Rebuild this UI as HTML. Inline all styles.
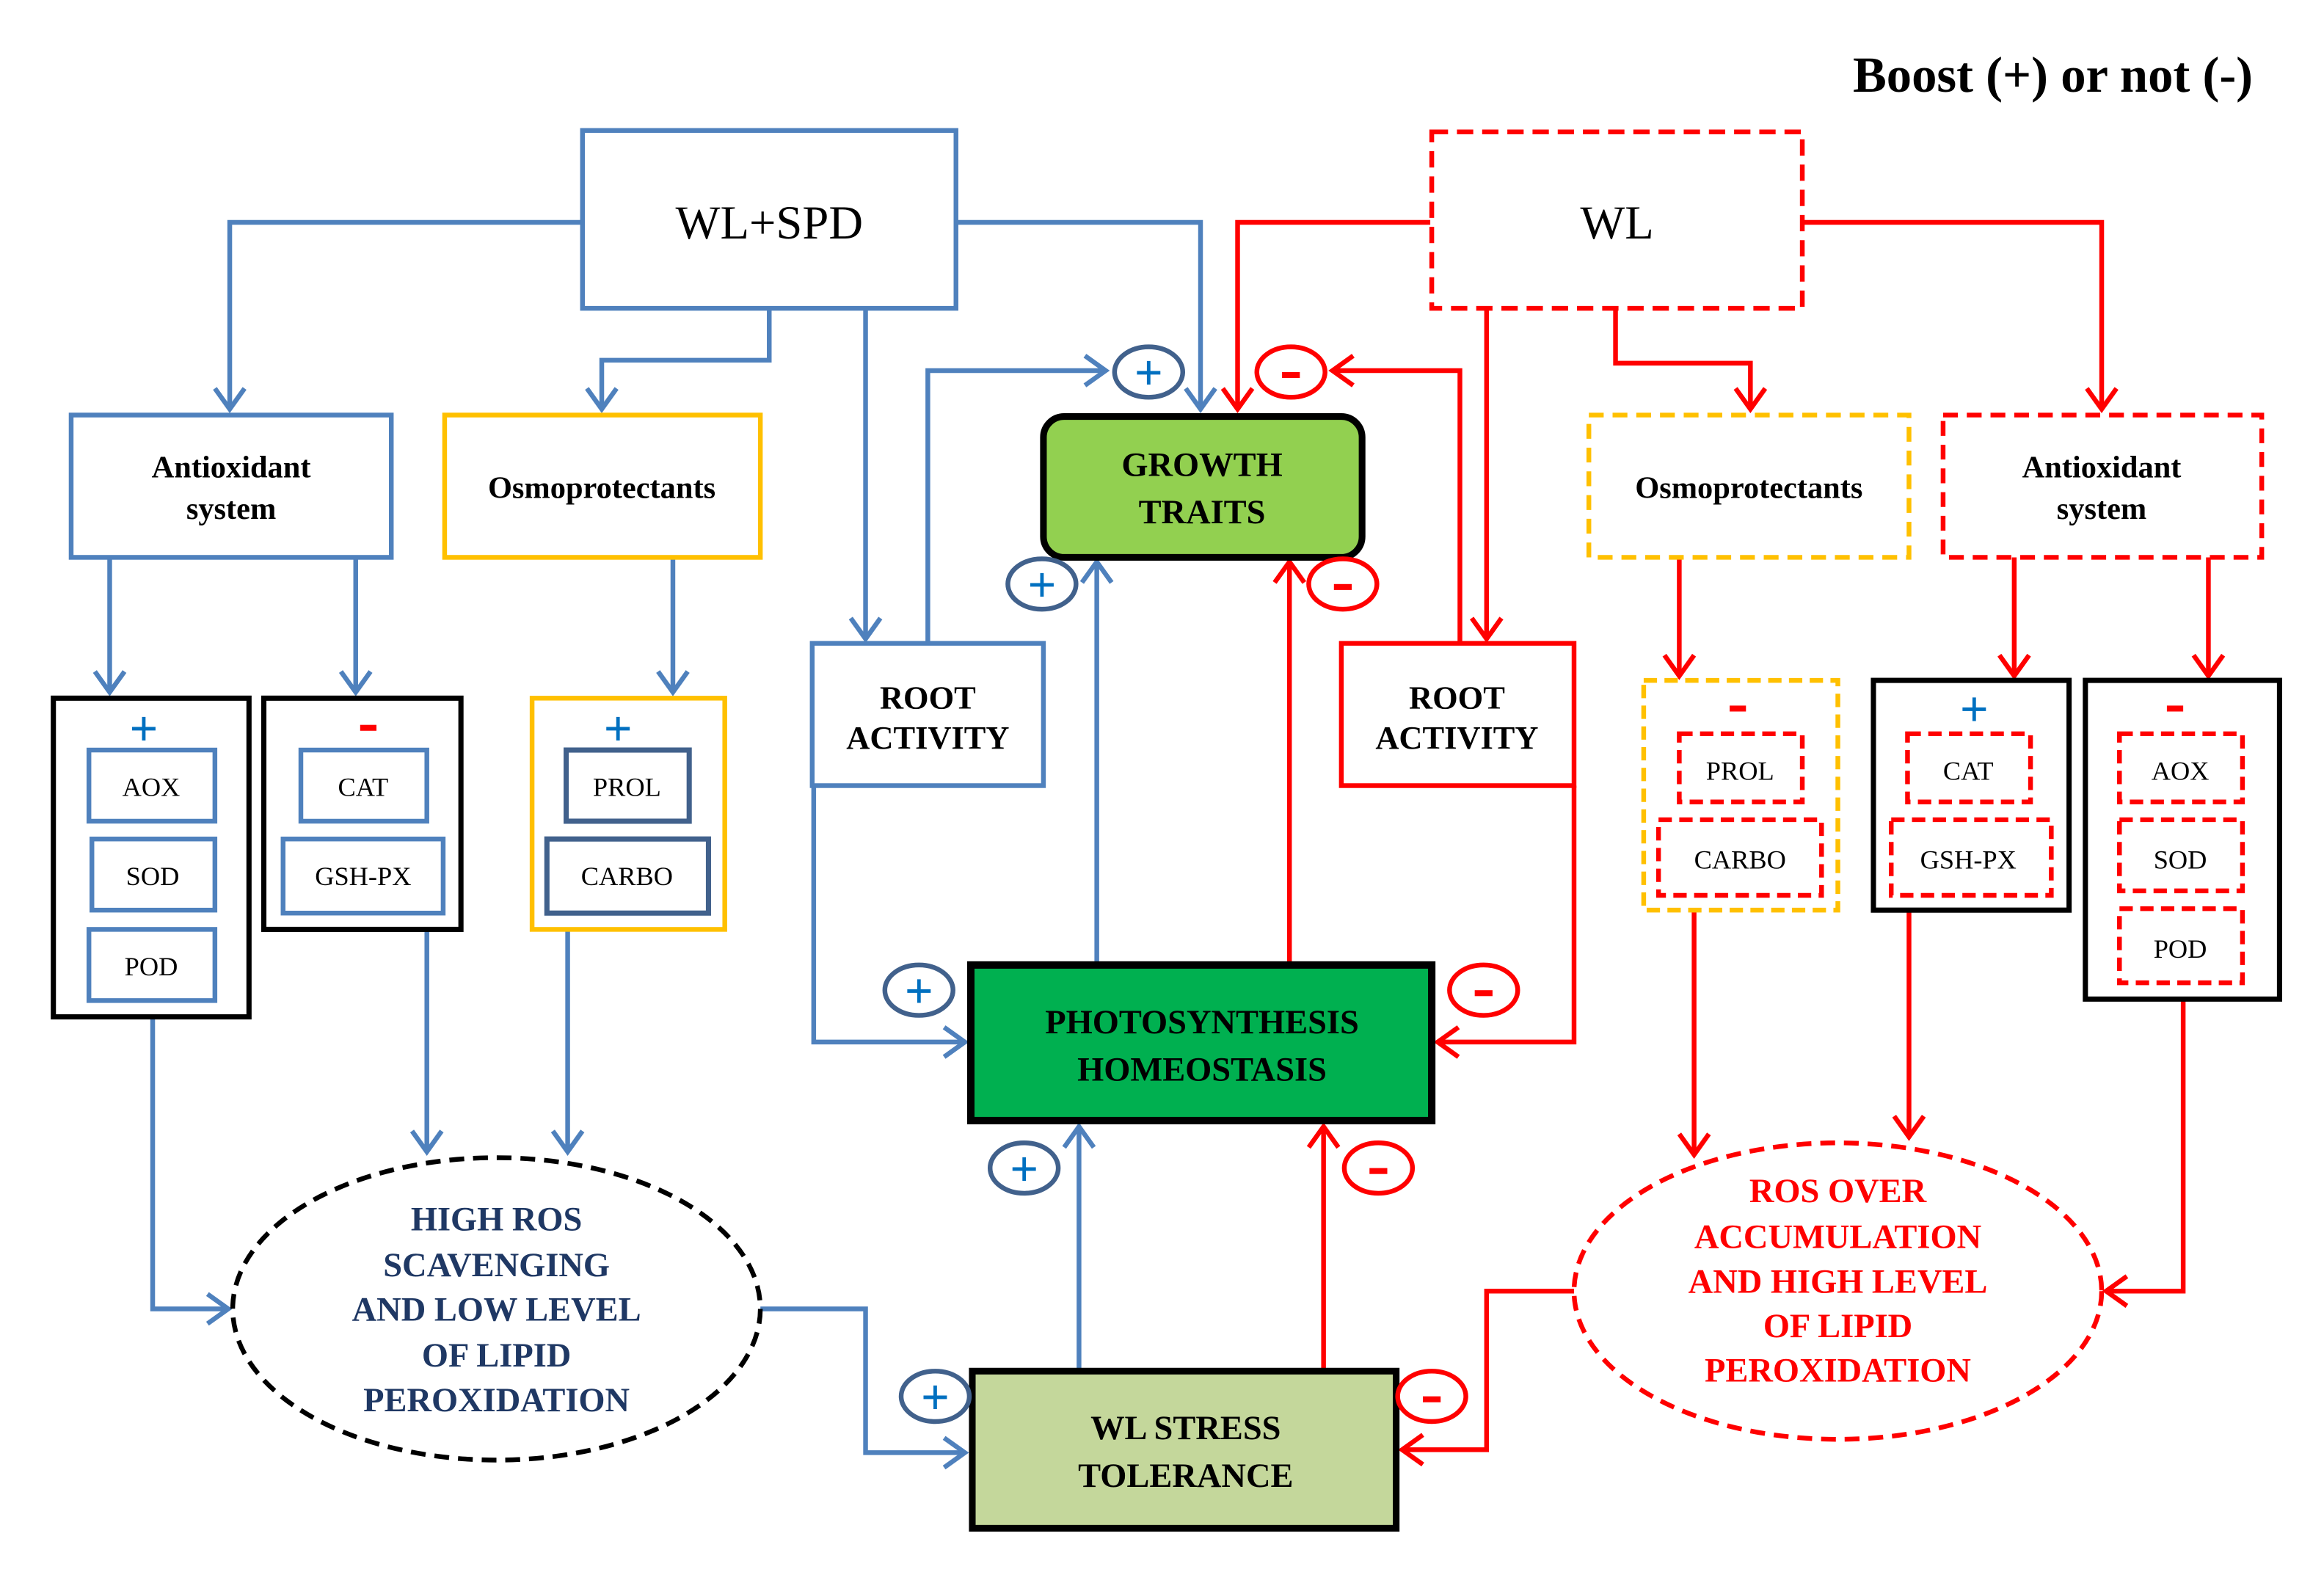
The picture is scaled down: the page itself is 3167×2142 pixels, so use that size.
<!DOCTYPE html>
<html><head><meta charset="utf-8"><style>
html,body{margin:0;padding:0;background:#fff}
svg{display:block}
text{font-family:"Liberation Serif",serif}
</style></head><body>
<svg width="3167" height="2142" viewBox="0 0 1568 1060.5" xmlns="http://www.w3.org/2000/svg">
<defs>
<marker id="ab" markerWidth="10" markerHeight="10" refX="8" refY="5" orient="auto" markerUnits="userSpaceOnUse" viewBox="0 0 10 10" style="overflow:visible">
<polyline points="-6,-5 8,5 -6,15" fill="none" stroke="#4F81BD" stroke-width="3.2"/>
</marker>
<marker id="ar" markerWidth="10" markerHeight="10" refX="8" refY="5" orient="auto" markerUnits="userSpaceOnUse" viewBox="0 0 10 10" style="overflow:visible">
<polyline points="-6,-5 8,5 -6,15" fill="none" stroke="#FF0000" stroke-width="3.2"/>
</marker>
</defs>
<rect width="1568" height="1061" fill="#fff"/>
<text x="1520" y="62" text-anchor="end" font-size="34" font-weight="bold">Boost (+) or not (-)</text>

<g fill="none" stroke="#4F81BD" stroke-width="3.2">
<polyline points="393,150 155,150 155,276" marker-end="url(#ab)"/>
<polyline points="519,208 519,243 406,243 406,276" marker-end="url(#ab)"/>
<polyline points="584,208 584,431" marker-end="url(#ab)"/>
<polyline points="645,150 810,150 810,276" marker-end="url(#ab)"/>
<polyline points="74,376 74,467" marker-end="url(#ab)"/>
<polyline points="240,376 240,467" marker-end="url(#ab)"/>
<polyline points="454,376 454,467" marker-end="url(#ab)"/>
<polyline points="626,434 626,250 746,250" marker-end="url(#ab)"/>
<polyline points="549,530 549,703 651,703" marker-end="url(#ab)"/>
<polyline points="740,650 740,379" marker-end="url(#ab)"/>
<polyline points="728,924 728,760" marker-end="url(#ab)"/>
<polyline points="103,686 103,883 154,883" marker-end="url(#ab)"/>
<polyline points="288,627 288,777" marker-end="url(#ab)"/>
<polyline points="383,627 383,777" marker-end="url(#ab)"/>
<polyline points="513,883 584,883 584,980 651,980" marker-end="url(#ab)"/>
</g>
<g fill="none" stroke="#FF0000" stroke-width="3.2">
<polyline points="965,150 835,150 835,276" marker-end="url(#ar)"/>
<polyline points="1003,208 1003,431" marker-end="url(#ar)"/>
<polyline points="1090,208 1090,245 1181,245 1181,276" marker-end="url(#ar)"/>
<polyline points="1217,150 1418,150 1418,276" marker-end="url(#ar)"/>
<polyline points="985,434 985,250 899,250" marker-end="url(#ar)"/>
<polyline points="1062,530 1062,703 970,703" marker-end="url(#ar)"/>
<polyline points="870,650 870,379" marker-end="url(#ar)"/>
<polyline points="893,924 893,760" marker-end="url(#ar)"/>
<polyline points="1133,376 1133,456" marker-end="url(#ar)"/>
<polyline points="1359,376 1359,456" marker-end="url(#ar)"/>
<polyline points="1490,376 1490,456" marker-end="url(#ar)"/>
<polyline points="1143,614 1143,779" marker-end="url(#ar)"/>
<polyline points="1288,614 1288,767" marker-end="url(#ar)"/>
<polyline points="1473,674 1473,871 1421,871" marker-end="url(#ar)"/>
<polyline points="1062,871 1003,871 1003,978 946,978" marker-end="url(#ar)"/>
</g>

<rect x="393" y="88" width="252" height="120" fill="#fff" stroke="#4F81BD" stroke-width="3.2"/>
<text x="519" y="161" text-anchor="middle" font-size="32">WL+SPD</text>
<rect x="966" y="89" width="250" height="119" fill="#fff" stroke="#FF0000" stroke-width="3.2" stroke-dasharray="11,6"/>
<text x="1091" y="161" text-anchor="middle" font-size="32">WL</text>

<rect x="48" y="280" width="216" height="96" fill="#fff" stroke="#4F81BD" stroke-width="3.2"/>
<text x="156" y="322" text-anchor="middle" font-size="21" font-weight="bold">Antioxidant</text>
<text x="156" y="350" text-anchor="middle" font-size="21" font-weight="bold">system</text>
<rect x="300" y="280" width="213" height="96" fill="#fff" stroke="#FFC000" stroke-width="3.2"/>
<text x="406" y="336" text-anchor="middle" font-size="21" font-weight="bold">Osmoprotectants</text>

<rect x="1072" y="280" width="216" height="96" fill="#fff" stroke="#FFC000" stroke-width="3.2" stroke-dasharray="10,6"/>
<text x="1180" y="336" text-anchor="middle" font-size="21" font-weight="bold">Osmoprotectants</text>
<rect x="1311" y="280" width="215" height="96" fill="#fff" stroke="#FF0000" stroke-width="3.2" stroke-dasharray="10,6"/>
<text x="1418" y="322" text-anchor="middle" font-size="21" font-weight="bold">Antioxidant</text>
<text x="1418" y="350" text-anchor="middle" font-size="21" font-weight="bold">system</text>

<rect x="36" y="471" width="132" height="215" fill="#fff" stroke="#000" stroke-width="3.5"/>
<g fill="#fff" stroke="#4F81BD" stroke-width="3.2">
<rect x="60" y="506" width="85" height="48"/><rect x="62" y="566" width="83" height="48"/><rect x="60" y="627" width="85" height="48"/>
<rect x="203" y="506" width="85" height="48"/><rect x="191" y="566" width="108" height="50"/>
</g>
<rect x="178" y="471" width="133" height="156" fill="none" stroke="#000" stroke-width="3.5"/>
<rect x="359" y="471" width="130" height="156" fill="none" stroke="#FFC000" stroke-width="3.2"/>
<g fill="#fff" stroke="#41618C" stroke-width="3.5">
<rect x="382" y="506" width="83" height="48"/><rect x="369" y="566" width="109" height="50"/>
</g>
<rect x="243" y="489" width="11" height="4" fill="#FF0000"/>
<g font-size="34" font-weight="bold" fill="#0070C0" text-anchor="middle" font-family="Liberation Sans">
<text x="97" y="503">+</text><text x="417" y="503">+</text><text x="1332" y="490">+</text>
</g>
<g font-size="18" text-anchor="middle">
<text x="102" y="537">AOX</text><text x="103" y="597">SOD</text><text x="102" y="658">POD</text>
<text x="245" y="537">CAT</text><text x="245" y="597">GSH-PX</text>
<text x="423" y="537">PROL</text><text x="423" y="597">CARBO</text>
</g>

<rect x="1109" y="459" width="131" height="155" fill="none" stroke="#FFC000" stroke-width="3.2" stroke-dasharray="9,5"/>
<rect x="1264" y="459" width="132" height="155" fill="none" stroke="#000" stroke-width="3.5"/>
<rect x="1407" y="459" width="131" height="215" fill="none" stroke="#000" stroke-width="3.5"/>
<g fill="none" stroke="#FF0000" stroke-width="3.2" stroke-dasharray="9,5">
<rect x="1133" y="495" width="83" height="46"/><rect x="1119" y="553" width="110" height="51"/>
<rect x="1287" y="495" width="83" height="46"/><rect x="1276" y="553" width="108" height="51"/>
<rect x="1430" y="495" width="83" height="46"/><rect x="1430" y="553" width="83" height="48"/><rect x="1430" y="613" width="83" height="50"/>
</g>
<rect x="1167" y="476" width="11" height="4" fill="#FF0000"/>
<rect x="1462" y="476" width="11" height="4" fill="#FF0000"/>
<g font-size="18" text-anchor="middle">
<text x="1174" y="526">PROL</text><text x="1174" y="586">CARBO</text>
<text x="1328" y="526">CAT</text><text x="1328" y="586">GSH-PX</text>
<text x="1471" y="526">AOX</text><text x="1471" y="586">SOD</text><text x="1471" y="646">POD</text>
</g>

<rect x="548" y="434" width="156" height="96" fill="#fff" stroke="#4F81BD" stroke-width="3.2"/>
<text x="626" y="478" text-anchor="middle" font-size="22" font-weight="bold">ROOT</text>
<text x="626" y="505" text-anchor="middle" font-size="22" font-weight="bold">ACTIVITY</text>
<rect x="905" y="434" width="157" height="96" fill="#fff" stroke="#FF0000" stroke-width="3.2"/>
<text x="983" y="478" text-anchor="middle" font-size="22" font-weight="bold">ROOT</text>
<text x="983" y="505" text-anchor="middle" font-size="22" font-weight="bold">ACTIVITY</text>

<rect x="704" y="281" width="215" height="95" rx="14" fill="#92D050" stroke="#000" stroke-width="4.5"/>
<text x="811" y="321" text-anchor="middle" font-size="23" font-weight="bold">GROWTH</text>
<text x="811" y="353" text-anchor="middle" font-size="23" font-weight="bold">TRAITS</text>
<rect x="655" y="651" width="311" height="105" fill="#00B050" stroke="#000" stroke-width="5"/>
<text x="811" y="697" text-anchor="middle" font-size="23" font-weight="bold">PHOTOSYNTHESIS</text>
<text x="811" y="729" text-anchor="middle" font-size="23" font-weight="bold">HOMEOSTASIS</text>
<rect x="656" y="925" width="286" height="106" fill="#C4D79B" stroke="#000" stroke-width="4.5"/>
<text x="800" y="971" text-anchor="middle" font-size="23" font-weight="bold">WL STRESS</text>
<text x="800" y="1003" text-anchor="middle" font-size="23" font-weight="bold">TOLERANCE</text>

<ellipse cx="335" cy="883" rx="178" ry="102" fill="#fff" stroke="#000" stroke-width="3.2" stroke-dasharray="10,6"/>
<g font-size="23" font-weight="bold" fill="#1F3864" text-anchor="middle">
<text x="335" y="830">HIGH ROS</text><text x="335" y="861">SCAVENGING</text><text x="335" y="891">AND LOW LEVEL</text><text x="335" y="922">OF LIPID</text><text x="335" y="952">PEROXIDATION</text>
</g>
<ellipse cx="1240" cy="871" rx="178" ry="100" fill="#fff" stroke="#FF0000" stroke-width="3.2" stroke-dasharray="10,6"/>
<g font-size="23" font-weight="bold" fill="#FF0000" text-anchor="middle">
<text x="1240" y="811">ROS OVER</text><text x="1240" y="842">ACCUMULATION</text><text x="1240" y="872">AND HIGH LEVEL</text><text x="1240" y="902">OF LIPID</text><text x="1240" y="932">PEROXIDATION</text>
</g>

<g fill="#fff" stroke="#41618C" stroke-width="3.2">
<ellipse cx="775" cy="251" rx="23" ry="17"/><ellipse cx="703" cy="394" rx="23" ry="17"/>
<ellipse cx="620" cy="668" rx="23" ry="17"/><ellipse cx="691" cy="788" rx="23" ry="17"/>
<ellipse cx="631" cy="942" rx="23" ry="17"/>
</g>
<g font-size="34" font-weight="bold" fill="#0070C0" text-anchor="middle" font-family="Liberation Sans">
<text x="775" y="263">+</text><text x="703" y="406">+</text><text x="620" y="680">+</text><text x="691" y="800">+</text><text x="631" y="954">+</text>
</g>
<g fill="#fff" stroke="#FF0000" stroke-width="3.2">
<ellipse cx="871" cy="251" rx="23" ry="17"/><ellipse cx="906" cy="394" rx="23" ry="17"/>
<ellipse cx="1001" cy="668" rx="23" ry="17"/><ellipse cx="930" cy="788" rx="23" ry="17"/>
<ellipse cx="966" cy="942" rx="23" ry="17"/>
</g>
<g fill="#FF0000">
<rect x="865" y="251" width="12" height="4"/><rect x="900" y="394" width="12" height="4"/>
<rect x="995" y="668" width="12" height="4"/><rect x="924" y="788" width="12" height="4"/>
<rect x="960" y="942" width="12" height="4"/>
</g>
</svg>
</body></html>
